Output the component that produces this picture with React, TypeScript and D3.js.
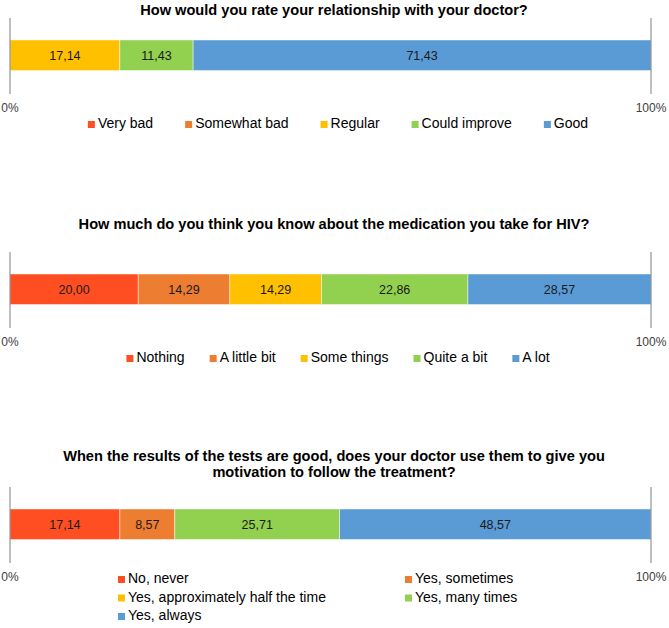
import React, { useEffect, useRef } from "react";
import * as d3 from "d3";

// Colours shared by every question's answer scale
const answerColors = ["#FF4F22", "#ED7D31", "#FFC000", "#92D050", "#5B9BD5"];

const relationshipTitle = ["How would you rate your relationship with your doctor?"];
const relationshipAnswers = ["Very bad", "Somewhat bad", "Regular", "Could improve", "Good"];
const relationshipValues = [0, 0, 17.14, 11.43, 71.43];

const medicationTitle = ["How much do you think you know about the medication you take for HIV?"];
const medicationAnswers = ["Nothing", "A little bit", "Some things", "Quite a bit", "A lot"];
const medicationValues = [20.0, 14.29, 14.29, 22.86, 28.57];

const motivationTitle = [
  "When the results of the tests are good, does your doctor use them to give you",
  "motivation to follow the treatment?",
];
const motivationAnswers = [
  "No, never",
  "Yes, sometimes",
  "Yes, approximately half the time",
  "Yes, many times",
  "Yes, always",
];
const motivationValues = [17.14, 8.57, 0, 25.71, 48.57];

const tickLabels = ["0%", "100%"];

const FONT = "'Liberation Sans', Arial, sans-serif";
const WIDTH = 669;
const HEIGHT = 628;

type PanelOpts = {
  title: string[];
  answers: string[];
  values: number[];
  top: number; // baseline of the first title line
  lineTop: number;
  legendY: number;
  legendGap?: number;
  twoColumns?: boolean;
};

export default function App() {
  const ref = useRef<SVGSVGElement>(null);

  useEffect(() => {
    const svg = d3.select(ref.current);
    svg.selectAll("*").remove();

    const x = d3.scaleLinear().domain([0, 100]).range([10, 651]);

    const drawPanel = (opts: PanelOpts) => {
      const g = svg.append("g");

      // title
      g.selectAll("text.title")
        .data(opts.title)
        .join("text")
        .attr("class", "title")
        .attr("x", 334)
        .attr("y", (_, i) => opts.top + i * 16)
        .attr("text-anchor", "middle")
        .attr("font-family", FONT)
        .attr("font-weight", "bold")
        .attr("font-size", 14.6)
        .attr("fill", "#000")
        .text(d => d);

      const barTop = opts.lineTop + 22;
      const barH = 30.5;

      // stacked segments
      const stack = d3.cumsum(opts.values);
      const segs = opts.values.map((v, i) => ({ v, i, x0: stack[i] - v, x1: stack[i] }));

      g.selectAll("rect.seg")
        .data(segs.filter(s => s.v > 0))
        .join("rect")
        .attr("class", "seg")
        .attr("x", d => x(d.x0))
        .attr("width", d => x(d.x1) - x(d.x0))
        .attr("y", barTop)
        .attr("height", barH)
        .attr("fill", d => answerColors[d.i])
        .attr("stroke", "#fff")
        .attr("stroke-opacity", 0.6)
        .attr("stroke-width", 0.75);

      g.selectAll("text.val")
        .data(segs.filter(s => s.v > 0))
        .join("text")
        .attr("class", "val")
        .attr("x", d => (x(d.x0) + x(d.x1)) / 2)
        .attr("y", barTop + barH / 2 + 4.5)
        .attr("text-anchor", "middle")
        .attr("font-family", FONT)
        .attr("font-size", 12.5)
        .attr("fill", "#1a1a1a")
        .text(d => d.v.toFixed(2).replace(".", ","));

      // 0% and 100% gridlines with labels
      const ticks = [0, 100];
      g.selectAll("line.grid")
        .data(ticks)
        .join("line")
        .attr("class", "grid")
        .attr("x1", d => x(d))
        .attr("x2", d => x(d))
        .attr("y1", opts.lineTop)
        .attr("y2", opts.lineTop + 76)
        .attr("stroke", "#7f7f7f")
        .attr("stroke-width", 1);

      g.selectAll("text.tick")
        .data(ticks)
        .join("text")
        .attr("class", "tick")
        .attr("x", d => x(d))
        .attr("y", opts.lineTop + 94)
        .attr("text-anchor", "middle")
        .attr("font-family", FONT)
        .attr("font-size", 12)
        .attr("fill", "#404040")
        .text((_, i) => tickLabels[i]);

      // legend
      const legend = g.append("g");
      const items = legend
        .selectAll("g.item")
        .data(opts.answers)
        .join("g")
        .attr("class", "item");

      items
        .append("rect")
        .attr("x", 0)
        .attr("y", -7)
        .attr("width", 7)
        .attr("height", 7)
        .attr("fill", (_, i) => answerColors[i]);

      items
        .append("text")
        .attr("x", 10)
        .attr("y", 0)
        .attr("font-family", FONT)
        .attr("font-size", 14)
        .attr("fill", "#000")
        .text(d => d);

      if (opts.twoColumns) {
        items.attr("transform", (_, i) => {
          const col = i % 2;
          const row = Math.floor(i / 2);
          return `translate(${col ? 405 : 118},${opts.legendY + row * 18.5})`;
        });
      } else {
        const widths: number[] = [];
        items.each(function () {
          const t = d3.select(this).select("text").node() as SVGTextElement;
          widths.push(10 + t.getComputedTextLength());
        });
        const gap = opts.legendGap ?? 30;
        const total = d3.sum(widths) + gap * (widths.length - 1);
        let cx = 338 - total / 2;
        const offsets = widths.map(w => {
          const o = cx;
          cx += w + gap;
          return o;
        });
        items.attr("transform", (_, i) => `translate(${offsets[i]},${opts.legendY})`);
      }
    };

    drawPanel({
      title: relationshipTitle,
      answers: relationshipAnswers,
      values: relationshipValues,
      top: 15,
      lineTop: 18,
      legendY: 128,
      legendGap: 32,
    });

    drawPanel({
      title: medicationTitle,
      answers: medicationAnswers,
      values: medicationValues,
      top: 229,
      lineTop: 252,
      legendY: 362,
      legendGap: 25,
    });

    drawPanel({
      title: motivationTitle,
      answers: motivationAnswers,
      values: motivationValues,
      top: 461,
      lineTop: 487,
      legendY: 583,
      twoColumns: true,
    });
  }, []);

  return (
    <svg
      ref={ref}
      width={WIDTH}
      height={HEIGHT}
      style={{ position: "absolute", left: 0, top: 0, background: "#fff" }}
    />
  );
}
